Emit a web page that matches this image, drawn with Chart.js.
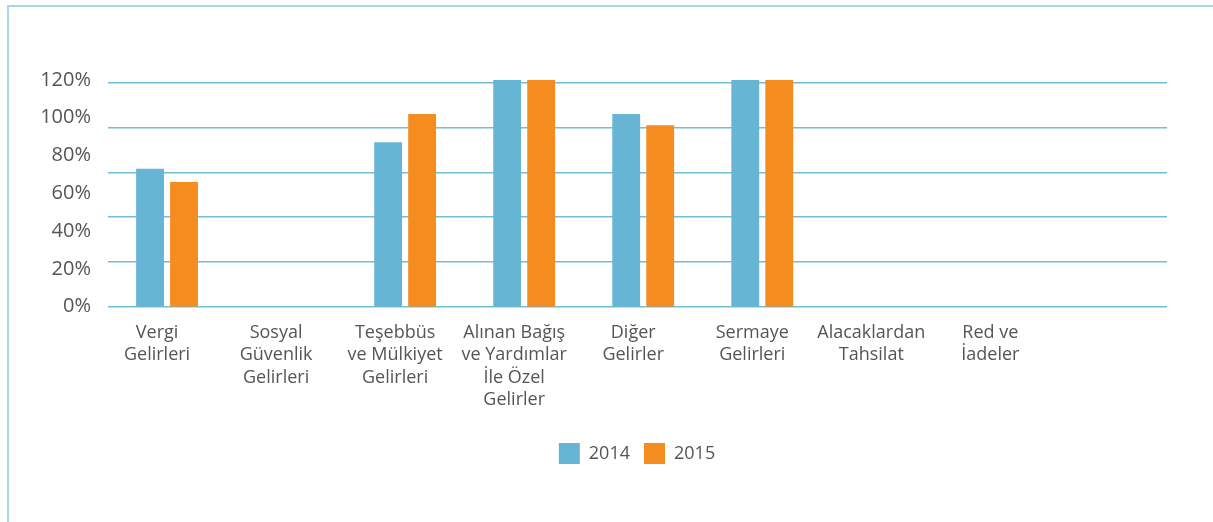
<!DOCTYPE html>
<html>
<head>
<meta charset="utf-8">
<script src="https://cdn.jsdelivr.net/npm/chart.js@4/dist/chart.umd.min.js"></script>
<style>
  html, body { margin: 0; padding: 0; background: #fff; overflow: hidden; }
  #frame { position: absolute; left: 7px; top: 5px; width: 1400px; height: 700px;
           border-left: 2px solid #a9d5e6; border-top: 2px solid #a9d5e6; }
  #c { position: absolute; left: 0; top: 0; }
</style>
</head>
<body>
<div id="frame"></div>
<canvas id="c" width="1213" height="522"></canvas>
<script>
// ---- data ----
const categories = [
  ["Vergi", "Gelirleri"],
  ["Sosyal", "Güvenlik", "Gelirleri"],
  ["Teşebbüs", "ve Mülkiyet", "Gelirleri"],
  ["Alınan Bağış", "ve Yardımlar", "İle Özel", "Gelirler"],
  ["Diğer", "Gelirler"],
  ["Sermaye", "Gelirleri"],
  ["Alacaklardan", "Tahsilat"],
  ["Red ve", "İadeler"]
];
const seriesNames = ["2014", "2015"];
const values2014 = [73, null, 87, 120, 102, 120, null, null];
const values2015 = [66, null, 102, 120, 96, 120, null, null];
const yTicks = [0, 20, 40, 60, 80, 100, 120];
const gridTicks = [0, 24, 48, 72, 96, 120];

const toPoints = arr => arr.map((v, i) => ({ x: i, y: v }));

const textColor = '#555555';
const font = 'Open Sans';

// shifts the legend's centring box to the right, as in the reference
const legendShift = {
  id: 'legendShift',
  afterLayout(chart) {
    if (chart.legend) { chart.legend.left = 107; }
  }
};

new Chart(document.getElementById('c'), {
  type: 'bar',
  data: {
    datasets: [
      { label: seriesNames[0], data: toPoints(values2014), backgroundColor: '#67b5d5',
        categoryPercentage: 0.571, barPercentage: 0.82 },
      { label: seriesNames[1], data: toPoints(values2015), backgroundColor: '#f58c1f',
        categoryPercentage: 0.571, barPercentage: 0.82 }
    ]
  },
  plugins: [legendShift],
  options: {
    responsive: false,
    devicePixelRatio: 1,
    animation: false,
    layout: { padding: { top: 80, right: 46, left: 0, bottom: 48 } },
    plugins: {
      tooltip: { enabled: false },
      legend: {
        position: 'bottom',
        labels: {
          boxWidth: 21, boxHeight: 21, padding: 14,
          color: textColor, font: { family: font, size: 18 }
        }
      }
    },
    scales: {
      x: {
        type: 'linear',
        min: -0.496, max: 8.40,
        offset: false,
        grid: { display: false },
        border: { display: false },
        afterBuildTicks: axis => { axis.ticks = categories.map((_, i) => ({ value: i })); },
        afterFit: axis => { axis.height += 11; },
        ticks: {
          autoSkip: false, maxRotation: 0, minRotation: 0,
          padding: 7,
          labelOffset: -10,
          color: textColor,
          font: { family: font, size: 18, lineHeight: 1.24 },
          callback: v => categories[v]
        }
      },
      y: {
        position: 'left',
        min: 0, max: 120,
        grid: { display: false, drawTicks: false },
        border: { display: false },
        afterBuildTicks: axis => { axis.ticks = yTicks.map(v => ({ value: v })); },
        afterFit: axis => { axis.width = 108; },
        ticks: {
          padding: 17,
          color: textColor,
          font: { family: font, size: 20 },
          callback: v => v + '%'
        }
      },
      y2: {
        position: 'left',
        min: 0, max: 121.5,
        grid: { color: '#74bdd8', lineWidth: 1.6, drawTicks: false },
        border: { display: false },
        afterBuildTicks: axis => { axis.ticks = gridTicks.map(v => ({ value: v })); },
        afterFit: axis => { axis.width = 0; },
        ticks: { display: false }
      }
    }
  }
});
</script>
</body>
</html>
